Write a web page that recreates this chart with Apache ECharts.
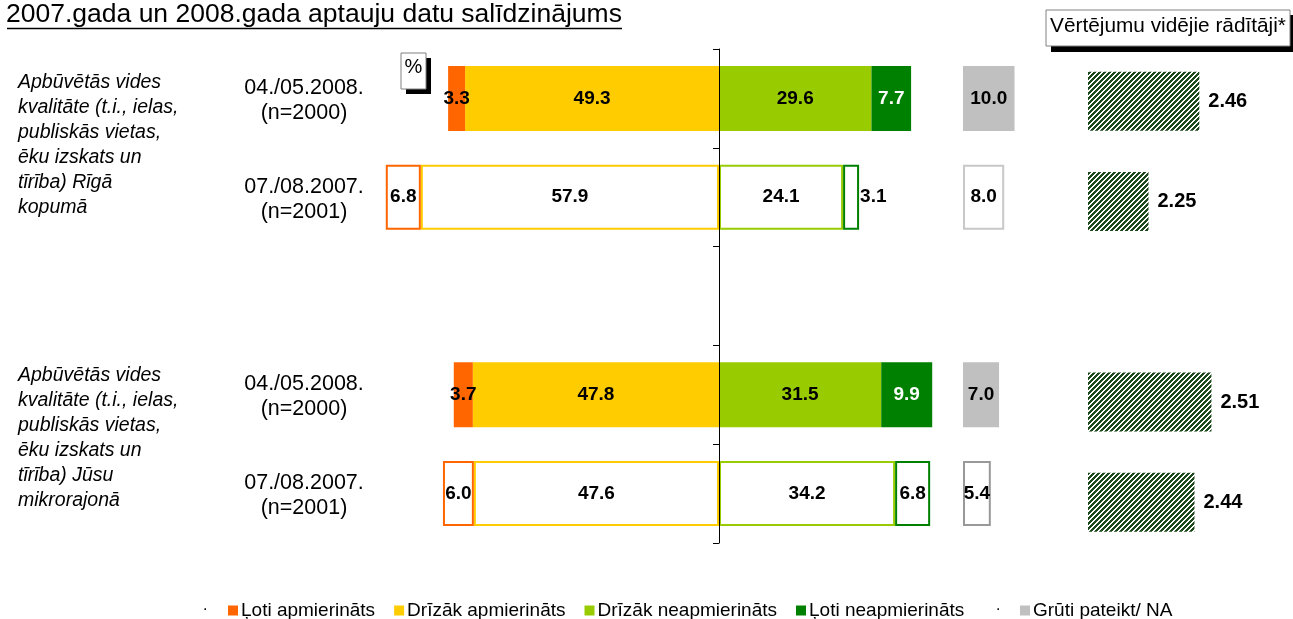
<!DOCTYPE html>
<html>
<head>
<meta charset="utf-8">
<script src="https://cdn.jsdelivr.net/npm/echarts@6/dist/echarts.min.js"></script>
<style>
html, body { margin: 0; padding: 0; background: #fff; }
#chart { width: 1293px; height: 619px; }
</style>
</head>
<body>
<div id="chart"></div>
<script>
// rows: 2008 / 2007 for Rīga, gap, 2008 / 2007 for neighbourhood
const rows = ['r1', 'r2', 'gap', 'r3', 'r4']
const rowDates = ['04./05.2008.', '07./08.2007.', '', '04./05.2008.', '07./08.2007.']
const rowSizes = ['(n=2000)', '(n=2001)', '', '(n=2000)', '(n=2001)']
const is2007 = [false, true, false, false, true]

const veryGood = [3.3, 6.8, null, 3.7, 6.0]
const ratherGood = [49.3, 57.9, null, 47.8, 47.6]
const ratherBad = [29.6, 24.1, null, 31.5, 34.2]
const veryBad = [7.7, 3.1, null, 9.9, 6.8]
const hardToSay = [10.0, 8.0, null, 7.0, 5.4]
const avgScore = [2.46, 2.25, null, 2.51, 2.44]

const seriesNames = ['Ļoti apmierināts', 'Drīzāk apmierināts', 'Drīzāk neapmierināts', 'Ļoti neapmierināts', 'Grūti pateikt/ NA']
const groupTitles = [
  'Apbūvētās vides\nkvalitāte (t.i., ielas,\npubliskās vietas,\nēku izskats un\ntīrība) Rīgā\nkopumā',
  'Apbūvētās vides\nkvalitāte (t.i., ielas,\npubliskās vietas,\nēku izskats un\ntīrība) Jūsu\nmikrorajonā'
]
const chartTitle = '2007.gada un 2008.gada aptauju datu salīdzinājums'
const avgTitle = 'Vērtējumu vidējie rādītāji*'

const colors = ['#FF6600', '#FFCC00', '#99CC00', '#008000', '#C0C0C0']
const font = "'Liberation Sans', Arial, sans-serif"

// px per percent point on the main scale
const unit = 5.15
const zeroX = 719
const gridTop = 49
const gridHeight = 494

// diagonal hatch for the average bars
const makeHatch = () => {
  const c = document.createElement('canvas')
  const s = 5
  c.width = s
  c.height = s
  const ctx = c.getContext('2d')
  ctx.fillStyle = '#ffffff'
  ctx.fillRect(0, 0, s, s)
  ctx.fillStyle = '#1d4a1d'
  for (let x = 0; x < s; x++) {
    for (let y = 0; y < s; y++) {
      if ((x + y) % s < 3) ctx.fillRect(x, y, 1, 1)
    }
  }
  return c
}

const makeItems = (vals, sign, color, small) => vals.map((v, i) => {
  if (v == null) return '-'
  const item = { value: sign * v }
  if (is2007[i]) {
    item.itemStyle = { color: '#fff', borderColor: color, borderWidth: 2 }
    item.label = { color: '#000' }
    if (small && v < 5) item.label = { color: '#000', position: 'right', distance: 1 }
  }
  return item
})

const barLabel = (color) => ({
  show: true,
  position: 'inside',
  color: color,
  fontFamily: font,
  fontWeight: 'bold',
  fontSize: 19,
  formatter: (p) => Math.abs(p.value).toFixed(1)
})

const mainBar = (idx, vals, sign, labelColor, small) => ({
  name: seriesNames[idx],
  type: 'bar',
  stack: 'main',
  xAxisIndex: 0,
  yAxisIndex: 0,
  barWidth: 65,
  itemStyle: { color: colors[idx] },
  label: barLabel(labelColor),
  data: makeItems(vals, sign, colors[idx], small)
})

const naBorders = { 1: '#c8c8c8', 4: '#999999' }

const legendText = { fontSize: 19, color: '#000', fontFamily: font, padding: [0, 0, 0, -2] }

const chart = echarts.init(document.getElementById('chart'))

const option = {
  animation: false,
  backgroundColor: '#fff',
  textStyle: { fontFamily: font },
  grid: [
    { left: zeroX - 70 * unit, width: 120 * unit, top: gridTop, height: gridHeight, outerBoundsMode: 'none', containLabel: false },
    { left: 963, width: 10 * unit, top: gridTop, height: gridHeight, outerBoundsMode: 'none' },
    { left: 1088, width: 145.2, top: 51, height: 501.5, outerBoundsMode: 'none' },
    // holder for the wave / sample size labels
    { left: 0, width: 240, top: gridTop + 2, height: gridHeight, outerBoundsMode: 'none' }
  ],
  xAxis: [
    { gridIndex: 0, type: 'value', min: -70, max: 50, show: false },
    { gridIndex: 1, type: 'value', min: 0, max: 10, show: false },
    { gridIndex: 2, type: 'value', min: 2, max: 2.6, show: false },
    { gridIndex: 3, type: 'value', min: 0, max: 1, show: false }
  ],
  yAxis: [
    {
      gridIndex: 0,
      type: 'category',
      data: rows,
      inverse: true,
      z: 5,
      axisLine: { onZero: true, lineStyle: { color: '#000', width: 1 } },
      axisTick: { show: true, length: 6, lineStyle: { color: '#000' } },
      axisLabel: { show: false }
    },
    { gridIndex: 1, type: 'category', data: rows, inverse: true, show: false },
    { gridIndex: 2, type: 'category', data: rows, inverse: true, show: false },
    {
      gridIndex: 3,
      type: 'category',
      data: rows,
      inverse: true,
      position: 'right',
      axisLine: { show: false, onZero: false },
      axisTick: { show: false },
      splitLine: { show: false },
      axisLabel: {
        margin: 2,
        interval: 0,
        color: '#000',
        fontFamily: font,
        formatter: (v, i) => rowDates[i] ? '{a|' + rowDates[i] + '}\n{a|' + rowSizes[i] + '}' : '',
        rich: {
          a: { width: 124, align: 'center', fontSize: 21.5, lineHeight: 25, color: '#000', fontFamily: font }
        }
      }
    }
  ],
  legend: [
    {
      data: seriesNames.slice(0, 4),
      left: 228,
      top: 601,
      padding: 0,
      itemWidth: 10,
      itemHeight: 10,
      itemGap: 19,
      icon: 'rect',
      textStyle: legendText
    },
    {
      data: [seriesNames[4]],
      left: 1020,
      top: 601,
      padding: 0,
      itemWidth: 10,
      itemHeight: 10,
      icon: 'rect',
      textStyle: legendText
    }
  ],
  series: [
    mainBar(1, ratherGood, -1, '#000', false),
    mainBar(0, veryGood, -1, '#000', false),
    mainBar(2, ratherBad, 1, '#000', false),
    mainBar(3, veryBad, 1, '#fff', true),
    {
      name: seriesNames[4],
      type: 'bar',
      xAxisIndex: 1,
      yAxisIndex: 1,
      barWidth: 65,
      itemStyle: { color: colors[4] },
      label: barLabel('#000'),
      data: hardToSay.map((v, i) => {
        if (v == null) return '-'
        if (!is2007[i]) return v
        return { value: v, itemStyle: { color: '#fff', borderColor: naBorders[i], borderWidth: 2 } }
      })
    },
    {
      name: 'avg',
      type: 'bar',
      xAxisIndex: 2,
      yAxisIndex: 2,
      barWidth: 59,
      itemStyle: { color: { image: makeHatch(), repeat: 'repeat' } },
      label: {
        show: true,
        position: 'right',
        distance: 9,
        color: '#000',
        fontFamily: font,
        fontWeight: 'bold',
        fontSize: 20,
        formatter: (p) => p.value.toFixed(2)
      },
      data: avgScore.map(v => v == null ? '-' : v)
    }
  ],
  graphic: [
    {
      type: 'text', left: 6, top: 1,
      style: { text: chartTitle, font: '26.5px ' + font, fill: '#000' }
    },
    {
      type: 'line', shape: { x1: 7, y1: 28.5, x2: 622, y2: 28.5 },
      style: { stroke: '#000', lineWidth: 1.5 }
    },
    {
      type: 'text', left: 18, top: 70,
      style: { text: groupTitles[0], font: 'italic 19.5px ' + font, lineHeight: 25, fill: '#000' }
    },
    {
      type: 'text', left: 18, top: 363,
      style: { text: groupTitles[1], font: 'italic 19.5px ' + font, lineHeight: 25, fill: '#000' }
    },
    // % box with shadow
    { type: 'rect', shape: { x: 406, y: 58, width: 25, height: 36 }, style: { fill: '#000' } },
    { type: 'rect', shape: { x: 401, y: 53, width: 25, height: 36 }, style: { fill: '#fff', stroke: '#808080', lineWidth: 1 } },
    { type: 'text', x: 413.5, y: 57, style: { text: '%', font: '20px ' + font, fill: '#000', align: 'center' } },
    // average title box with shadow
    { type: 'rect', shape: { x: 1051, y: 15, width: 245, height: 37 }, style: { fill: '#000' } },
    { type: 'rect', shape: { x: 1046, y: 10, width: 244, height: 36 }, style: { fill: '#fff', stroke: '#808080', lineWidth: 1 } },
    { type: 'text', x: 1168, y: 16, style: { text: avgTitle, font: '20.8px ' + font, fill: '#000', align: 'center' } },
    // stray dots in the legend row
    { type: 'text', x: 203, y: 598, style: { text: '.', font: '16px ' + font, fill: '#000' } },
    { type: 'text', x: 996, y: 598, style: { text: '.', font: '16px ' + font, fill: '#000' } }
  ]
}

chart.setOption(option)
</script>
</body>
</html>
